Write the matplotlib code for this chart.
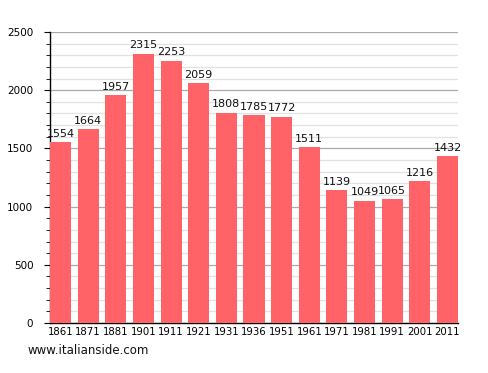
import matplotlib
matplotlib.use("Agg")
import matplotlib.pyplot as plt
from matplotlib.ticker import MultipleLocator

years = ["1861", "1871", "1881", "1901", "1911", "1921", "1931", "1936",
         "1951", "1961", "1971", "1981", "1991", "2001", "2011"]
population = [1554, 1664, 1957, 2315, 2253, 2059, 1808, 1785,
              1772, 1511, 1139, 1049, 1065, 1216, 1432]

fig = plt.figure(figsize=(4.88, 3.73), dpi=100)
ax = fig.add_axes([50/488, 1-323/373, 408/488, 291/373])

x = list(range(len(years)))
ax.bar(x, population, width=0.76, color="#ff6368", zorder=3)
for xi, v in zip(x, population):
    ax.text(xi, v + 30, f"{v}", ha="center", va="bottom", fontsize=8,
            color="#111111", zorder=4)

ax.set_xlim(-0.38, len(years) - 0.62)
ax.set_ylim(0, 2500)
ax.set_xticks(x)
ax.set_xticklabels(years, fontsize=7.3)
ax.yaxis.set_major_locator(MultipleLocator(500))
ax.yaxis.set_minor_locator(MultipleLocator(100))
ax.tick_params(axis="y", which="major", length=4, labelsize=7.5, pad=8)
ax.tick_params(axis="y", which="minor", length=3)
ax.tick_params(axis="x", length=0, pad=3)
ax.grid(axis="y", which="major", color="#aaaaaa", linewidth=0.9, zorder=0)
ax.grid(axis="y", which="minor", color="#e2e2e2", linewidth=0.9, zorder=0)
for s in ["top", "right"]:
    ax.spines[s].set_visible(False)
ax.spines["left"].set_linewidth(1)
ax.spines["bottom"].set_linewidth(1)

fig.text(28/488, 1-351/373, "www.italianside.com", fontsize=8.5, va="center",
         ha="left", color="#111111")

fig.savefig("out.png", dpi=100)
